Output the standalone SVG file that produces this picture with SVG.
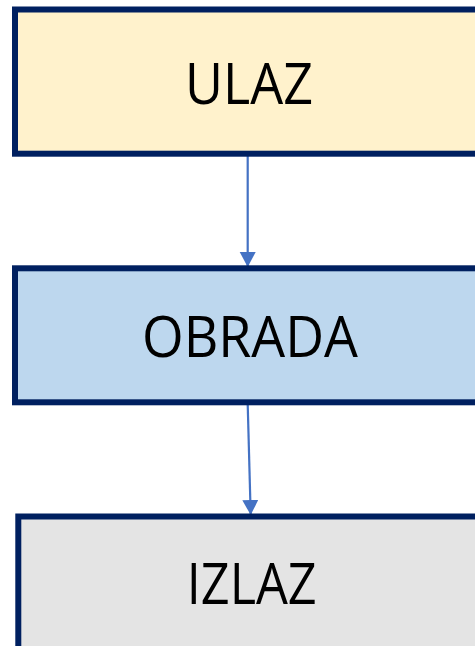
<svg xmlns="http://www.w3.org/2000/svg" width="475" height="646" viewBox="0 0 475 646">
  <style>
    .box { stroke: #002060; stroke-width: 6; }
    .label { font-family: "Open Sans", "Noto Sans", "Liberation Sans", sans-serif; font-size: 57px; fill: #000; text-anchor: middle; }
    .conn { stroke: #4472C4; stroke-width: 2.2; fill: none; marker-end: url(#arrow); }
  </style>
  <defs>
    <marker id="arrow" markerUnits="userSpaceOnUse" markerWidth="17" markerHeight="17" refX="15" refY="8" orient="auto">
      <path d="M0,0 L15,8 L0,16 Z" fill="#4472C4"/>
    </marker>
  </defs>
  <rect width="475" height="646" fill="#fff"/>
  <g id="connectors">
    <line class="conn" x1="247.7" y1="156" x2="247.7" y2="267"/>
    <line class="conn" x1="247.7" y1="404" x2="250.7" y2="515"/>
  </g>
  <g id="ulaz">
    <rect class="box" x="15" y="9.5" width="480" height="144.2" fill="#FFF2CC"/>
    <text class="label" x="249" y="103.5" textLength="128" lengthAdjust="spacingAndGlyphs">ULAZ</text>
  </g>
  <g id="obrada">
    <rect class="box" x="15" y="268.3" width="480" height="134" fill="#BDD7EE"/>
    <text class="label" x="250" y="357" textLength="216" lengthAdjust="spacingAndGlyphs">OBRADA</text>
  </g>
  <g id="izlaz">
    <rect class="box" x="18.3" y="516.5" width="480" height="160" fill="#E4E4E4"/>
    <text class="label" x="251.7" y="603.5" textLength="130" lengthAdjust="spacingAndGlyphs">IZLAZ</text>
  </g>
</svg>
